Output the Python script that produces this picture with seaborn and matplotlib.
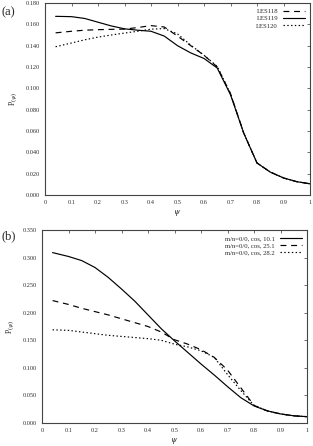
import matplotlib
matplotlib.use("Agg")
import matplotlib.pyplot as plt
import seaborn as sns
import pandas as pd

# psi grid shared by all curves
psi = [0.04, 0.1, 0.15, 0.2, 0.25, 0.3, 0.35, 0.4, 0.45, 0.5,
       0.55, 0.6, 0.65, 0.7, 0.75, 0.8, 0.85, 0.9, 0.95, 1.0]

# panel (a)
les118 = [0.152, 0.1535, 0.1545, 0.155, 0.1553, 0.1555, 0.157, 0.1588, 0.1575, 0.149,
          0.140, 0.131, 0.120, 0.095, 0.058, 0.030, 0.0215, 0.016, 0.0125, 0.0105]
les119 = [0.1675, 0.1672, 0.1655, 0.162, 0.1585, 0.1558, 0.1545, 0.1535, 0.149, 0.140,
          0.1332, 0.128, 0.119, 0.094, 0.058, 0.030, 0.0215, 0.016, 0.0125, 0.0105]
les120 = [0.139, 0.1425, 0.1455, 0.148, 0.150, 0.1518, 0.1535, 0.1555, 0.156, 0.151,
          0.1405, 0.131, 0.1205, 0.095, 0.058, 0.030, 0.0215, 0.016, 0.0125, 0.0105]
labels_a = ["LES118", "LES119", "LES120"]

# panel (b)
cos_101 = [0.309, 0.302, 0.2945, 0.282, 0.264, 0.243, 0.221, 0.196, 0.171, 0.149,
           0.128, 0.107, 0.087, 0.066, 0.046, 0.031, 0.022, 0.0165, 0.013, 0.0115]
cos_251 = [0.222, 0.215, 0.208, 0.202, 0.196, 0.189, 0.182, 0.175, 0.165, 0.151,
           0.143, 0.133, 0.119, 0.096, 0.064, 0.032, 0.022, 0.0165, 0.013, 0.0115]
cos_282 = [0.169, 0.168, 0.165, 0.162, 0.159, 0.157, 0.155, 0.153, 0.150, 0.143,
           0.138, 0.131, 0.119, 0.088, 0.059, 0.032, 0.022, 0.0165, 0.013, 0.0115]
labels_b = ["m/n=0/0, cos, 10.1", "m/n=0/0, cos, 25.1", "m/n=0/0, cos, 28.2"]

sns.set_style("white")
plt.rcParams["font.family"] = ["Liberation Serif", "DejaVu Serif"]
plt.rcParams["mathtext.fontset"] = "dejavuserif"

dash = (0, (5, 4))
dot = (0, (1.2, 2))

fig = plt.figure(figsize=(3.13, 4.46), dpi=100)
ax_a = fig.add_axes([45 / 313, 1 - 195 / 446, 265 / 313, 192 / 446])
ax_b = fig.add_axes([42 / 313, 1 - 423 / 446, 265 / 313, 193 / 446])


def draw(ax, series, labels, styles):
    for vals, lab, ls in zip(series, labels, styles):
        df = pd.DataFrame({"psi": psi, "p": vals})
        sns.lineplot(data=df, x="psi", y="p", ax=ax, color="black",
                     linewidth=0.85, linestyle=ls, label=lab)


draw(ax_a, [les118, les119, les120], labels_a, [dash, "-", dot])
draw(ax_b, [cos_101, cos_251, cos_282], labels_b, ["-", dash, dot])

xt = [0, 0.1, 0.2, 0.3, 0.4, 0.5, 0.6, 0.7, 0.8, 0.9, 1]
xtl = ["0", "0.1", "0.2", "0.3", "0.4", "0.5", "0.6", "0.7", "0.8", "0.9", "1"]
for ax, ymax, step in [(ax_a, 0.18, 0.02), (ax_b, 0.35, 0.05)]:
    n = int(round(ymax / step))
    yt = [i * step for i in range(n + 1)]
    ax.set_xlim(0, 1)
    ax.set_ylim(0, ymax)
    ax.set_xticks(xt)
    ax.set_xticklabels(xtl)
    ax.set_yticks(yt)
    ax.set_yticklabels([f"{v:.3f}" for v in yt])
    ax.tick_params(direction="in", length=2.5, width=0.5, labelsize=4.6,
                   top=True, right=True, pad=3.5, colors="#333333")
    ax.set_xlabel(r"$\psi$", fontsize=5.5, labelpad=2)
    ax.set_ylabel(r"P$_{(\psi)}$", fontsize=5.5, labelpad=5)
    for s in ax.spines.values():
        s.set_color("#444444")
        s.set_linewidth(0.8)
    leg = ax.legend(loc="upper right", frameon=False, fontsize=4.8,
                    markerfirst=False, handlelength=3.2, handletextpad=0.8,
                    labelspacing=0.25, borderaxespad=0.4)
    for t in leg.get_texts():
        t.set_ha("right")

fig.text(2 / 313, 1 - 12 / 446, "(a)", fontsize=9, va="center", ha="left")
fig.text(2 / 313, 1 - 236 / 446, "(b)", fontsize=9, va="center", ha="left")

fig.savefig("out.png", dpi=100)
